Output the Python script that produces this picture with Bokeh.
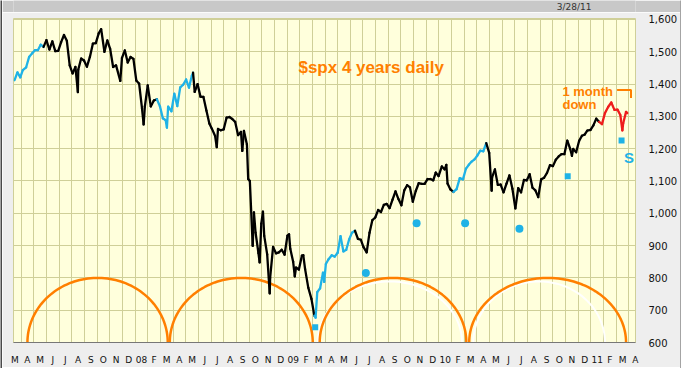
import datetime as dt
import bisect
import numpy as np
from bokeh.plotting import figure
from bokeh.layouts import column, row
from bokeh.models import (FixedTicker, Range1d, Label, NumeralTickFormatter, ColumnDataSource)
from bokeh.embed import file_html
from bokeh.resources import INLINE

# ---------------- data ----------------
week_dates = [
    "2007-03-16", "2007-03-23", "2007-03-30", "2007-04-05", "2007-04-13", "2007-04-20", "2007-04-27",
    "2007-05-04", "2007-05-11", "2007-05-18", "2007-05-25", "2007-06-01", "2007-06-08", "2007-06-15",
    "2007-06-22", "2007-06-29", "2007-07-06", "2007-07-13", "2007-07-20", "2007-07-27", "2007-08-03",
    "2007-08-10", "2007-08-16", "2007-08-17", "2007-08-24", "2007-08-31", "2007-09-07", "2007-09-14",
    "2007-09-21", "2007-09-28", "2007-10-05", "2007-10-11", "2007-10-19", "2007-10-26", "2007-11-02",
    "2007-11-09", "2007-11-16", "2007-11-26", "2007-11-30", "2007-12-07", "2007-12-14", "2007-12-21",
    "2007-12-28",
    "2008-01-04", "2008-01-11", "2008-01-18", "2008-01-22", "2008-01-25", "2008-02-01", "2008-02-08",
    "2008-02-15", "2008-02-22", "2008-02-29", "2008-03-07", "2008-03-14", "2008-03-17", "2008-03-20",
    "2008-03-28", "2008-04-04", "2008-04-11", "2008-04-18", "2008-04-25", "2008-05-02", "2008-05-09",
    "2008-05-16", "2008-05-19", "2008-05-23", "2008-05-30", "2008-06-06", "2008-06-13", "2008-06-20",
    "2008-06-27", "2008-07-03", "2008-07-11", "2008-07-15", "2008-07-18", "2008-07-25", "2008-08-01",
    "2008-08-08", "2008-08-15", "2008-08-22", "2008-08-29", "2008-09-05", "2008-09-12", "2008-09-15",
    "2008-09-19", "2008-09-26", "2008-09-29", "2008-10-03", "2008-10-10", "2008-10-13", "2008-10-17",
    "2008-10-24", "2008-10-27", "2008-10-31", "2008-11-04", "2008-11-07", "2008-11-14", "2008-11-20",
    "2008-11-21", "2008-11-28", "2008-12-05", "2008-12-12", "2008-12-19", "2008-12-26",
    "2009-01-02", "2009-01-06", "2009-01-09", "2009-01-16", "2009-01-20", "2009-01-23", "2009-01-30",
    "2009-02-06", "2009-02-09", "2009-02-13", "2009-02-20", "2009-02-27", "2009-03-06", "2009-03-09",
    "2009-03-13", "2009-03-20", "2009-03-27", "2009-03-30", "2009-04-03", "2009-04-09", "2009-04-17",
    "2009-04-24", "2009-05-01", "2009-05-08", "2009-05-15", "2009-05-22", "2009-05-29", "2009-06-05",
    "2009-06-12", "2009-06-19", "2009-06-26", "2009-07-02", "2009-07-10", "2009-07-17", "2009-07-24",
    "2009-07-31", "2009-08-07", "2009-08-14", "2009-08-21", "2009-08-28", "2009-09-04", "2009-09-11",
    "2009-09-18", "2009-09-25", "2009-10-02", "2009-10-09", "2009-10-16", "2009-10-23", "2009-10-30",
    "2009-11-06", "2009-11-13", "2009-11-20", "2009-11-27", "2009-12-04", "2009-12-11", "2009-12-18",
    "2009-12-24", "2009-12-31",
    "2010-01-08", "2010-01-15", "2010-01-19", "2010-01-22", "2010-01-29", "2010-02-05", "2010-02-12",
    "2010-02-19", "2010-02-26", "2010-03-05", "2010-03-12", "2010-03-19", "2010-03-26", "2010-04-02",
    "2010-04-09", "2010-04-16", "2010-04-23", "2010-04-30", "2010-05-06", "2010-05-07", "2010-05-14",
    "2010-05-21", "2010-05-28", "2010-06-04", "2010-06-11", "2010-06-18", "2010-06-25", "2010-07-02",
    "2010-07-09", "2010-07-16", "2010-07-23", "2010-07-30", "2010-08-06", "2010-08-13", "2010-08-20",
    "2010-08-27", "2010-09-03", "2010-09-10", "2010-09-17", "2010-09-24", "2010-10-01", "2010-10-08",
    "2010-10-15", "2010-10-22", "2010-10-29", "2010-11-05", "2010-11-12", "2010-11-16", "2010-11-19",
    "2010-11-26", "2010-12-03", "2010-12-10", "2010-12-17", "2010-12-23", "2010-12-31",
    "2011-01-07", "2011-01-14", "2011-01-21", "2011-01-28", "2011-02-04", "2011-02-11", "2011-02-18",
    "2011-02-25", "2011-03-04", "2011-03-11", "2011-03-16", "2011-03-18", "2011-03-25", "2011-03-28",
]
week_close = [
    1412, 1436, 1421, 1443, 1452, 1484, 1495,
    1505, 1505, 1522, 1515, 1536, 1507, 1532,
    1502, 1503, 1530, 1552, 1534, 1458, 1433,
    1453, 1375, 1445, 1479, 1473, 1454, 1484,
    1525, 1527, 1557, 1570, 1500, 1535, 1509,
    1453, 1458, 1410, 1481, 1504, 1467, 1484,
    1478,
    1411, 1401, 1325, 1275, 1331, 1396, 1331,
    1349, 1353, 1331, 1294, 1288, 1265, 1330,
    1316, 1370, 1332, 1390, 1398, 1414, 1389,
    1426, 1435, 1376, 1400, 1361, 1360, 1318,
    1278, 1262, 1239, 1205, 1261, 1257, 1260,
    1296, 1298, 1292, 1283, 1242, 1252, 1193,
    1255, 1213, 1106, 1100, 899, 1003, 940,
    877, 848, 968, 1005, 930, 873, 752,
    800, 896, 876, 879, 887, 872,
    931, 935, 890, 850, 805, 832, 826,
    869, 870, 827, 770, 735, 683, 677,
    756, 768, 816, 788, 843, 857, 870,
    866, 878, 929, 882, 887, 919, 940,
    946, 921, 918, 896, 879, 940, 979,
    987, 1010, 1004, 1026, 1029, 1016, 1042,
    1068, 1044, 1025, 1071, 1087, 1080, 1036,
    1069, 1093, 1091, 1091, 1106, 1106, 1102,
    1126, 1115,
    1145, 1136, 1150, 1092, 1074, 1066, 1075,
    1109, 1105, 1138, 1150, 1160, 1167, 1179,
    1194, 1192, 1217, 1187, 1070, 1111, 1136,
    1088, 1089, 1065, 1092, 1117, 1076, 1015,
    1078, 1065, 1103, 1102, 1121, 1079, 1071,
    1050, 1105, 1110, 1125, 1149, 1146, 1166,
    1176, 1183, 1183, 1225, 1199, 1178, 1199,
    1189, 1224, 1240, 1244, 1256, 1258,
    1272, 1293, 1283, 1276, 1310, 1329, 1343,
    1320, 1321, 1304, 1257, 1279, 1314, 1310,
]

# colour periods of the price line (start date, colour)
period_starts = ["2007-03-01", "2007-05-25", "2008-02-22", "2008-05-19", "2009-03-02",
                 "2009-06-12", "2010-02-05", "2010-04-23", "2011-01-21"]
period_colors = ["#1fb2e6", "#000000", "#1fb2e6", "#000000", "#1fb2e6",
                 "#000000", "#1fb2e6", "#000000", "#ee1c1c"]

# month labels Mar 2007 .. Apr 2011
month_labels = ["M", "A", "M", "J", "J", "A", "S", "O", "N", "D",
                "08", "F", "M", "A", "M", "J", "J", "A", "S", "O", "N", "D",
                "09", "F", "M", "A", "M", "J", "J", "A", "S", "O", "N", "D",
                "10", "F", "M", "A", "M", "J", "J", "A", "S", "O", "N", "D",
                "11", "F", "M", "A"]
price_ticks = [600, 700, 800, 900, 1000, 1100, 1200, 1300, 1400, 1500, 1600]

# cycle arcs (orange) and secondary arcs (white)
cycle_starts = ["2007-04-16", "2008-03-24", "2009-03-19", "2010-03-13"]
cycle_ends = ["2008-03-19", "2009-03-02", "2010-03-06", "2011-03-25"]
cycle_peak = 800
white_starts = ["2009-03-14", "2010-03-23"]
white_ends = ["2010-02-24", "2011-02-04"]
white_peak = 789

# cyan low markers
low_dates = ["2009-03-08", "2009-07-08", "2009-11-08", "2010-03-03",
             "2010-07-12", "2010-11-06", "2011-03-14"]
low_values = [647, 815, 969, 969, 952, 1115, 1225]
low_kinds = ["square", "circle", "circle", "circle", "circle", "square", "square"]

# annotation bracket for "1 month down"
bracket_dates = ["2011-03-03", "2011-04-06", "2011-04-06"]
bracket_values = [1382, 1382, 1357]

chart_date = "3/28/11"


# ---------------- helpers ----------------
def mpos(s):
    d = dt.date.fromisoformat(s)
    first = dt.date(d.year, d.month, 1)
    nxt = dt.date(d.year + (d.month == 12), d.month % 12 + 1, 1)
    return (d.year - 2007) * 12 + (d.month - 3) + (d - first).days / (nxt - first).days - 0.5


xs = [mpos(d) for d in week_dates]
pstart = [mpos(d) for d in period_starts]

x0, y0, x1, y1, cols = [], [], [], [], []
for i in range(len(xs) - 1):
    k = bisect.bisect_right(pstart, xs[i]) - 1
    x0.append(xs[i]); y0.append(week_close[i])
    x1.append(xs[i + 1]); y1.append(week_close[i + 1])
    cols.append(period_colors[max(k, 0)])

YELLOW_BG = "#ffffdc"
GRID = "#cfcf98"
ORANGE = "#ff7f00"
CYAN = "#1fb2e6"
EDGE = "#4a4a4a"


def strip(w, h, color):
    f = figure(width=w, height=h, output_backend="svg", toolbar_location=None,
               x_axis_type=None, y_axis_type=None,
               min_border_left=0, min_border_right=0, min_border_top=0, min_border_bottom=0)
    f.background_fill_color = color
    f.border_fill_color = color
    f.outline_line_color = None
    return f


# ---------- top gray band with the date ----------
band = figure(width=678, height=12, output_backend="svg", toolbar_location=None,
              x_axis_type=None, y_axis_type=None, x_range=Range1d(2, 680), y_range=Range1d(0, 12),
              min_border_left=0, min_border_right=0, min_border_top=0, min_border_bottom=0)
band.background_fill_color = "#c8c8c8"
band.border_fill_color = "#c8c8c8"
band.outline_line_color = None
band.add_layout(Label(x=632, y=6, text=chart_date,
                      text_align="right", text_baseline="middle", text_font="DejaVu Sans",
                      text_font_size="9px", text_color="#333333"))

# ---------- main chart ----------
p = figure(width=678, height=355, output_backend="svg", toolbar_location=None,
           x_range=Range1d(-0.1, 49.02), y_range=Range1d(600, 1603),
           y_axis_location="right",
           min_border_left=11, min_border_right=44, min_border_top=6, min_border_bottom=23)
p.background_fill_color = YELLOW_BG
p.border_fill_color = "#eeeeee"
p.outline_line_color = GRID

# grids
p.xgrid.ticker = FixedTicker(ticks=[m - 0.5 for m in range(0, 51)])
p.ygrid.ticker = FixedTicker(ticks=price_ticks)
for g in (p.xgrid, p.ygrid):
    g.grid_line_color = GRID
    g.grid_line_width = 1

# axes
p.xaxis.ticker = FixedTicker(ticks=list(range(len(month_labels))))
p.xaxis.major_label_overrides = {i: lab for i, lab in enumerate(month_labels)}
p.xaxis.major_tick_line_color = None
p.xaxis.minor_tick_line_color = None
p.xaxis.axis_line_color = "#777777"
p.xaxis.major_label_standoff = 6
p.xaxis.major_label_text_font = "DejaVu Sans"
p.xaxis.major_label_text_font_size = "9px"
p.xaxis.major_label_text_color = "#111111"

p.yaxis.ticker = FixedTicker(ticks=price_ticks)
p.yaxis.formatter = NumeralTickFormatter(format="0,0")
p.yaxis.major_tick_line_color = None
p.yaxis.minor_tick_line_color = None
p.yaxis.axis_line_color = None
p.yaxis.major_label_standoff = 7
p.yaxis.major_label_text_font = "DejaVu Sans"
p.yaxis.major_label_text_font_size = "10px"
p.yaxis.major_label_text_color = "#111111"

# arcs
t = np.linspace(0, np.pi, 80)
for s, e in zip(white_starts, white_ends):
    a, b = mpos(s), mpos(e)
    c, r = (a + b) / 2, (b - a) / 2
    p.line(c - r * np.cos(t), 600 + (white_peak - 600) * np.sin(t),
           line_color="white", line_width=2, line_alpha=0.95)
for s, e in zip(cycle_starts, cycle_ends):
    a, b = mpos(s), mpos(e)
    c, r = (a + b) / 2, (b - a) / 2
    p.line(c - r * np.cos(t), 600 + (cycle_peak - 600) * np.sin(t),
           line_color=ORANGE, line_width=2.5)

# price line
src = ColumnDataSource(dict(x0=x0, y0=y0, x1=x1, y1=y1, c=cols))
p.segment("x0", "y0", "x1", "y1", source=src, line_color="c", line_width=2.3, line_cap="round")

# cyan markers
lx = [mpos(d) for d in low_dates]
cx = [x for x, k in zip(lx, low_kinds) if k == "circle"]
cy = [v for v, k in zip(low_values, low_kinds) if k == "circle"]
sx = [x for x, k in zip(lx, low_kinds) if k == "square"]
sy = [v for v, k in zip(low_values, low_kinds) if k == "square"]
p.scatter(cx, cy, marker="circle", size=8, fill_color=CYAN, line_color=None)
p.scatter(sx, sy, marker="square", size=6, fill_color=CYAN, line_color=None)

# bracket
p.line([mpos(d) for d in bracket_dates], bracket_values, line_color=ORANGE, line_width=2)

# texts
p.add_layout(Label(x=28.15, y=1452, text="$spx 4 years daily", text_align="center",
                   text_baseline="middle", text_font="Liberation Sans", text_font_style="bold",
                   text_font_size="17px", text_color=ORANGE))
p.add_layout(Label(x=43.25, y=1377, text="1 month", text_align="left",
                   text_baseline="middle", text_font="Liberation Sans", text_font_style="bold",
                   text_font_size="13px", text_color=ORANGE))
p.add_layout(Label(x=43.25, y=1338, text="down", text_align="left",
                   text_baseline="middle", text_font="Liberation Sans", text_font_style="bold",
                   text_font_size="13px", text_color=ORANGE))
p.add_layout(Label(x=48.5, y=1172, text="S", text_align="center",
                   text_baseline="middle", text_font="Liberation Sans", text_font_style="bold",
                   text_font_size="15px", text_color=CYAN))

# outer frame edges (left, right, bottom)
left_edge = strip(2, 368, EDGE)
right_edge = strip(1, 368, EDGE)
bottom_edge = strip(678, 1, EDGE)

layout = row(left_edge, column(band, p, bottom_edge, spacing=0), right_edge, spacing=0)
open("out.html", "w").write(file_html(layout, INLINE))
